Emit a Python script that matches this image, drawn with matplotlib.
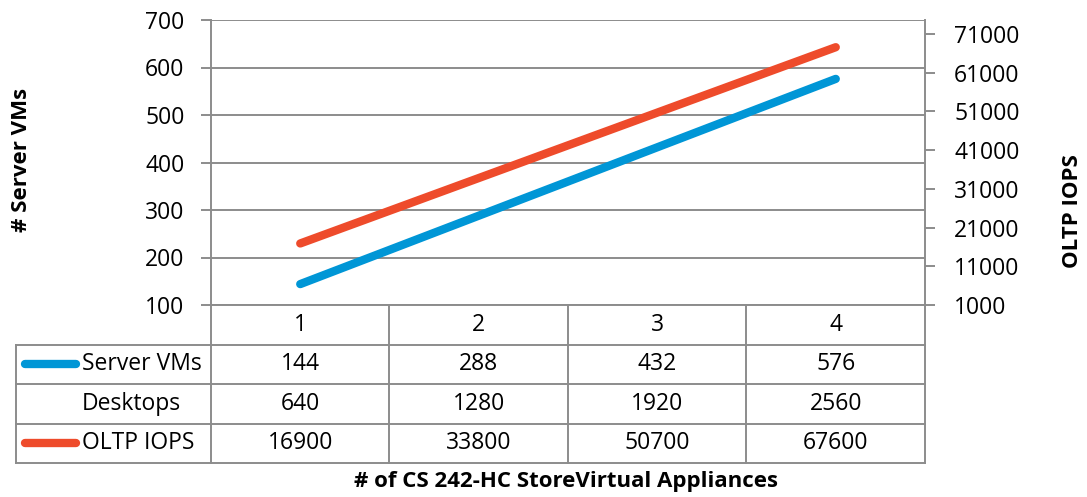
import matplotlib
matplotlib.use('Agg')
from matplotlib import pyplot as plt

categories = ['1', '2', '3', '4']
server_vms = [144, 288, 432, 576]
desktops = [640, 1280, 1920, 2560]
oltp_iops = [16900, 33800, 50700, 67600]
row_names = ['Server VMs', 'Desktops', 'OLTP IOPS']
left_ticks = [100, 200, 300, 400, 500, 600, 700]
right_ticks = [1000, 11000, 21000, 31000, 41000, 51000, 61000, 71000]

blue = '#0096D6'
red = '#EE4B2B'
grid = '#8C8C8C'
plt.rcParams['font.family'] = ['Open Sans', 'DejaVu Sans']
fs = 16.5
fsb = 16

W, H = 1087, 497
fig = plt.figure(figsize=(W / 100, H / 100), dpi=100)

# plot area in pixels
px_l, px_r, px_t, px_b = 211, 925, 20, 305
ax = fig.add_axes([px_l / W, 1 - px_b / H, (px_r - px_l) / W, (px_b - px_t) / H])
x = [1, 2, 3, 4]
ax.set_xlim(0.5, 4.5)
ax.set_ylim(100, 700)
ax.set_yticks(left_ticks)
ax.set_xticks([])
ax.grid(axis='y', color=grid, lw=1.4)
ax.set_axisbelow(True)
for s in ['left', 'right', 'bottom']:
    ax.spines[s].set_color(grid)
    ax.spines[s].set_linewidth(1.4)
ax.spines['top'].set_visible(False)
ax.tick_params(axis='y', length=7, width=1.4, color=grid, labelsize=fs, pad=12)
ax.plot(x, server_vms, color=blue, lw=6, solid_capstyle='round', zorder=3)

ax2 = ax.twinx()
ax2.set_ylim(1000, 74630)
ax2.set_yticks(right_ticks)
for s in ['left', 'right', 'bottom', 'top']:
    ax2.spines[s].set_visible(False)
ax2.tick_params(axis='y', length=7, width=1.4, color=grid, labelsize=fs, pad=14)
ax2.plot(x, oltp_iops, color=red, lw=6, solid_capstyle='round', zorder=3)

fig.text(22 / W, 1 - 160 / H, '# Server VMs', rotation=90, ha='center', va='center',
         fontsize=fsb, fontweight='bold')
fig.text(1073 / W, 1 - 211 / H, 'OLTP IOPS', rotation=90, ha='center', va='center',
         fontsize=fsb, fontweight='bold')

# data table
tb_b = 463
tab = fig.add_axes([px_l / W, 1 - tb_b / H, (px_r - px_l) / W, (tb_b - px_b) / H])
tab.set_xlim(0.5, 4.5)
tab.set_ylim(4, 0)
tab.axis('off')
units = (px_r - px_l) / 4
xl = 0.5 - (px_l - 16) / units
kw = dict(color=grid, lw=1.4, clip_on=False)
tab.plot([0.5, 0.5], [0, 4], **kw)
for xv in [1.5, 2.5, 3.5, 4.5]:
    tab.plot([xv, xv], [0, 4], **kw)
tab.plot([xl, xl], [1, 4], **kw)
for yv in [1, 2, 3, 4]:
    tab.plot([xl, 4.5], [yv, yv], **kw)
for i, c in enumerate(categories):
    tab.text(x[i], 0.5, c, ha='center', va='center', fontsize=fs)
rows = [server_vms, desktops, oltp_iops]
for r, vals in enumerate(rows):
    for i, v in enumerate(vals):
        tab.text(x[i], r + 1.5, str(v), ha='center', va='center', fontsize=fs)
    tab.text(xl + 66 / units, r + 1.5, row_names[r], ha='left', va='center',
             fontsize=fs, clip_on=False)
tab.plot([xl + 9 / units, xl + 60 / units], [1.5, 1.5], color=blue, lw=6,
         solid_capstyle='round', clip_on=False)
tab.plot([xl + 9 / units, xl + 60 / units], [3.5, 3.5], color=red, lw=6,
         solid_capstyle='round', clip_on=False)

fig.text(566 / W, 1 - 482 / H, '# of CS 242-HC StoreVirtual Appliances',
         ha='center', va='center', fontsize=fsb, fontweight='bold')

fig.savefig('out.png', dpi=100)
